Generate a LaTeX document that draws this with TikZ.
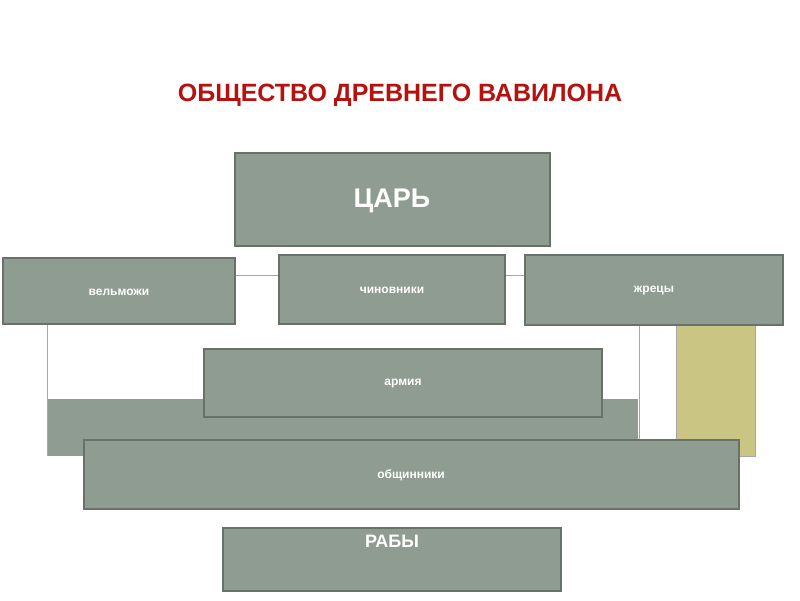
\documentclass[tikz,border=0pt]{standalone}
\usepackage{fontspec}
\setmainfont{Liberation Sans}
\definecolor{boxg}{HTML}{8E9C91}
\definecolor{boxb}{HTML}{68726A}
\definecolor{khaki}{HTML}{CBC584}
\definecolor{ttl}{HTML}{B5110F}
\begin{document}
\begin{tikzpicture}[x=1pt,y=-1pt,
  gbox/.style={draw=boxb,line width=1.5pt,fill=boxg},
  lbl/.style={text=white,font=\bfseries},
  thin/.style={draw=gray!70,line width=0.6pt}]
\useasboundingbox (0,0) rectangle (800,600);
\node[text=ttl,font=\bfseries\fontsize{25}{30}\selectfont] (title) at (400,95) {ОБЩЕСТВО ДРЕВНЕГО ВАВИЛОНА};
% background pieces
\fill[boxg] (47,399) rectangle (638,456);
\draw[thin] (47,325) -- (47,456);
\draw[thin] (639,325) -- (639,440);
\draw[fill=khaki,draw=gray!70,line width=0.6pt] (676,325) rectangle (755,456);
\draw[thin] (235,275) -- (279,275);
\draw[thin] (505,275) -- (525,275);
% boxes
\draw[gbox] (235,153) rectangle (550,246);
\node[lbl,font=\bfseries\fontsize{27}{30}\selectfont] (tsar) at (392,201) {ЦАРЬ};
\draw[gbox] (3,258) rectangle (235,324);
\node[lbl,font=\bfseries\fontsize{12}{14}\selectfont] (vel) at (119,292) {вельможи};
\draw[gbox] (279,255) rectangle (505,324);
\node[lbl,font=\bfseries\fontsize{12}{14}\selectfont] (chin) at (392,290) {чиновники};
\draw[gbox] (525,255) rectangle (783,325);
\node[lbl,font=\bfseries\fontsize{12}{14}\selectfont] (zhr) at (654,291) {жрецы};
\draw[gbox] (204,349) rectangle (602,417);
\node[lbl,font=\bfseries\fontsize{12}{14}\selectfont] (arm) at (403,384) {армия};
\draw[gbox] (84,440) rectangle (739,509);
\node[lbl,font=\bfseries\fontsize{12}{14}\selectfont] (obsch) at (411,475) {общинники};
\draw[gbox] (223,528) rectangle (561,591);
\node[lbl,font=\bfseries\fontsize{18}{20}\selectfont] (raby) at (392,541) {РАБЫ};
\end{tikzpicture}
\end{document}
